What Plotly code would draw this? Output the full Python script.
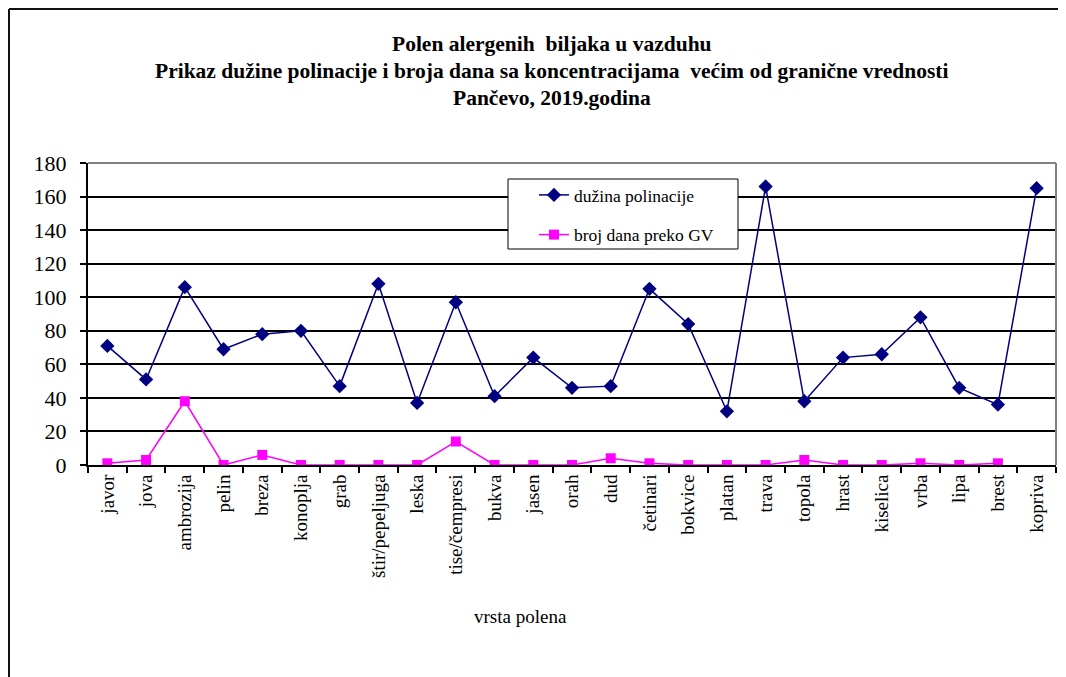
import plotly.graph_objects as go

categories = ["javor", "jova", "ambrozija", "pelin", "breza", "konoplja", "grab",
              "štir/pepeljuga", "leska", "tise/čempresi", "bukva", "jasen", "orah",
              "dud", "četinari", "bokvice", "platan", "trava", "topola", "hrast",
              "kiselica", "vrba", "lipa", "brest", "kopriva"]
duzina_polinacije = [71, 51, 106, 69, 78, 80, 47, 108, 37, 97, 41, 64, 46,
                     47, 105, 84, 32, 166, 38, 64, 66, 88, 46, 36, 165]
broj_dana_preko_gv = [1, 3, 38, 0, 6, 0, 0, 0, 0, 14, 0, 0, 0,
                      4, 1, 0, 0, 0, 3, 0, 0, 1, 0, 1, None]
y_ticks = [0, 20, 40, 60, 80, 100, 120, 140, 160, 180]
title_lines = ["Polen alergenih  biljaka u vazduhu",
               "Prikaz dužine polinacije i broja dana sa koncentracijama  većim od granične vrednosti",
               "Pančevo, 2019.godina"]
x_title = "vrsta polena"

# page offset (browser body margin)
OFF = 8
SW, SH = 1066, 677
W, H = SW - OFF, SH - OFF
# plot area in screen pixels
L, R, T, B = 88, 1056, 163, 465
FONT = "Liberation Serif, Times New Roman, serif"


def px(x):
    return (x - L) / (R - L)


def py(y):
    return (B - y) / (B - T)


fig = go.Figure()
fig.add_trace(go.Scatter(
    x=categories, y=duzina_polinacije, name="dužina polinacije",
    mode="lines+markers", legendgroup="a",
    line=dict(color="#000080", width=1.5),
    marker=dict(symbol="diamond", size=11, color="#000080"),
))
fig.add_trace(go.Scatter(
    x=categories, y=broj_dana_preko_gv, name="broj dana preko GV",
    mode="lines+markers", legendgroup="b",
    line=dict(color="#FF00FF", width=1.5),
    marker=dict(symbol="square", size=10, color="#FF00FF"),
))

shapes = [
    # outer chart frame (left and top visible)
    dict(type="line", xref="paper", yref="paper", x0=px(9), x1=px(9), y0=py(9), y1=py(700),
         line=dict(color="#111111", width=2)),
    dict(type="line", xref="paper", yref="paper", x0=px(9), x1=px(1100), y0=py(9), y1=py(9),
         line=dict(color="#111111", width=2)),
    # plot area border top/right
    dict(type="line", xref="paper", yref="paper", x0=0, x1=1, y0=1, y1=1,
         line=dict(color="#808080", width=2), layer="above"),
    dict(type="line", xref="paper", yref="paper", x0=1, x1=1, y0=0, y1=1,
         line=dict(color="#808080", width=2), layer="above"),
    # legend box
    dict(type="rect", xref="paper", yref="paper", x0=px(508), x1=px(738), y0=py(249), y1=py(179),
         line=dict(color="black", width=1), fillcolor="white", layer="above"),
]

annotations = []
for txt, yy in zip(title_lines, [44, 71, 98]):
    annotations.append(dict(
        text="<b>" + txt + "</b>", xref="paper", yref="paper", x=px(552), y=py(yy),
        xanchor="center", yanchor="middle", showarrow=False,
        font=dict(family=FONT, size=21.5, color="black")))
annotations.append(dict(
    text=x_title, xref="paper", yref="paper", x=px(520), y=py(616),
    xanchor="center", yanchor="middle", showarrow=False,
    font=dict(family=FONT, size=19, color="black")))

fig.update_layout(
    width=W, height=H,
    margin=dict(l=L - OFF, r=SW - R, t=T - OFF, b=SH - B, pad=0),
    paper_bgcolor="white", plot_bgcolor="white",
    font=dict(family=FONT, color="black"),
    showlegend=True,
    legend=dict(x=px(534), y=py(177), xanchor="left", yanchor="top",
                bgcolor="rgba(0,0,0,0)", borderwidth=0,
                font=dict(family=FONT, size=17.5, color="black"),
                traceorder="grouped", tracegroupgap=14),
    shapes=shapes,
    annotations=annotations,
)
fig.update_xaxes(
    type="category", showgrid=False, showline=True, linecolor="black", linewidth=2,
    ticks="outside", tickson="boundaries", ticklen=6, tickcolor="black", tickwidth=1.5,
    tickangle=-90, tickfont=dict(family=FONT, size=19, color="black"),
    range=[-0.5, len(categories) - 0.5],
)
fig.update_yaxes(
    range=[0, 180], tickvals=y_ticks, showgrid=True, gridcolor="black", gridwidth=1.8,
    zeroline=False, showline=True, linecolor="black", linewidth=2,
    ticks="outside", ticklen=6, tickcolor="black", tickwidth=1.5,
    tickfont=dict(family=FONT, size=22, color="black"), ticklabelstandoff=9,
)

fig.write_html("out.html")
